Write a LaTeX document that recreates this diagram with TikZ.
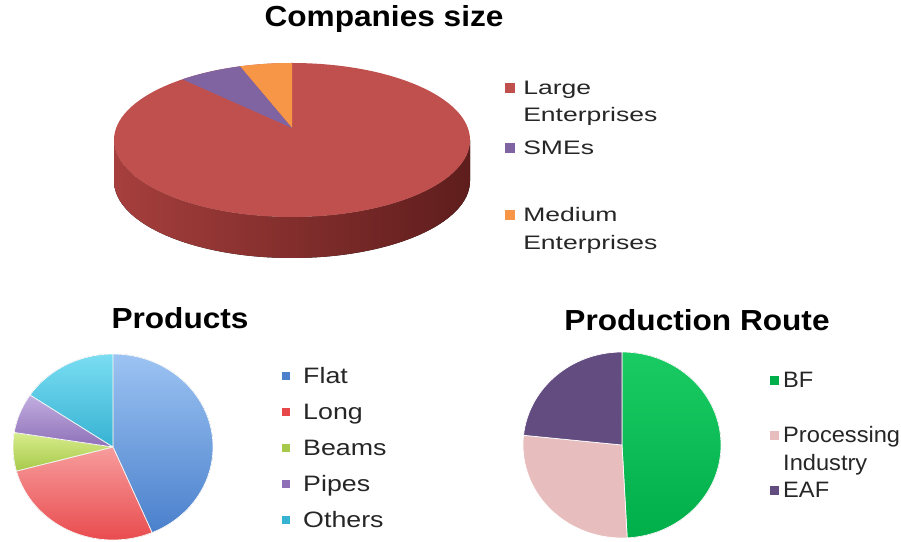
\documentclass[tikz,border=0pt]{standalone}
\usepackage{fontspec}
\setmainfont{Liberation Sans}
\usepackage{xcolor}
\usetikzlibrary{positioning}

\definecolor{large}{HTML}{C0504D}
\definecolor{smes}{HTML}{8064A2}
\definecolor{medium}{HTML}{F79646}
\definecolor{sideL}{HTML}{A63F3D}
\definecolor{sideR}{HTML}{5E1D1C}
\definecolor{flatA}{HTML}{9CC3F2}
\definecolor{flatB}{HTML}{4A80CC}
\definecolor{longA}{HTML}{F79C9C}
\definecolor{longB}{HTML}{E8474A}
\definecolor{beamsA}{HTML}{D8EC8C}
\definecolor{beamsB}{HTML}{A6C94A}
\definecolor{pipesA}{HTML}{C2AEE0}
\definecolor{pipesB}{HTML}{8E70B8}
\definecolor{othersA}{HTML}{7ADDF2}
\definecolor{othersB}{HTML}{36B2D2}
\definecolor{bfA}{HTML}{1ACB63}
\definecolor{bfB}{HTML}{00AE4A}
\definecolor{pink}{HTML}{E8BDBD}
\definecolor{eaf}{HTML}{634C80}
\definecolor{legtext}{HTML}{262626}

\begin{document}
\begin{tikzpicture}[
        x=1pt, y=1pt,
        title/.style={font=\bfseries\fontsize{29}{34}\selectfont, text=black, xscale=1.09, anchor=base, inner sep=0},
        legtop/.style={font=\fontsize{19.5}{23}\selectfont, text=legtext, xscale=1.36, anchor=base west, inner sep=0},
        legprod/.style={font=\fontsize{22.3}{26}\selectfont, text=legtext, xscale=1.2, anchor=base west, inner sep=0},
        legroute/.style={font=\fontsize{22.3}{26}\selectfont, text=legtext, xscale=1.06, anchor=base west, inner sep=0},
        legkey/.style={inner sep=0, minimum size=#1},
        legkey/.default=9pt,
        slice/.style={draw=white, line width=0.7pt, line join=round}
    ]
    \useasboundingbox (0,0) rectangle (901,541);

    % Companies size (3D pie)
    \node[title] (tSize) at (384,514) {Companies size};
    \fill[left color=sideL, right color=sideR] (114,401) -- (114,360)
        arc[start angle=180, end angle=360, x radius=178, y radius=77] -- (470,401)
        arc[start angle=0, end angle=-180, x radius=178, y radius=77] -- cycle;
    \fill[large] (292,401) ellipse [x radius=178, y radius=77];
    \fill[medium] (292,413) -- ([shift={(292,401)}]90:178 and 77)
        arc[start angle=90, end angle=107, x radius=178, y radius=77] -- cycle;
    \fill[smes] (292,413) -- ([shift={(292,401)}]107:178 and 77)
        arc[start angle=107, end angle=128, x radius=178, y radius=77] -- cycle;

    % Legend
    \node[legkey=10pt, fill=large] (kLarge) at (510,453) {};
    \node[legtop] (tLarge) at (523,446) {Large};
    \node[legtop] (tLarge2) at (523,419) {Enterprises};
    \node[legkey=10pt, fill=smes] (kSmes) at (510,393) {};
    \node[legtop] (tSmes) at (523,386) {SMEs};
    \node[legkey=10pt, fill=medium] (kMedium) at (510,326) {};
    \node[legtop] (tMedium) at (523,319) {Medium};
    \node[legtop] (tMedium2) at (523,291) {Enterprises};

    % Products
    \node[title] (tProducts) at (180,212) {Products};
    \begin{scope}[shift={(113,94)}]
        \filldraw[slice, top color=flatA, bottom color=flatB] (0,0) -- (90:100 and 93)
            arc[start angle=90, end angle=-67, x radius=100, y radius=93] -- cycle;
        \filldraw[slice, top color=longA, bottom color=longB] (0,0) -- (-67:100 and 93)
            arc[start angle=-67, end angle=-165, x radius=100, y radius=93] -- cycle;
        \filldraw[slice, top color=beamsA, bottom color=beamsB] (0,0) -- (195:100 and 93)
            arc[start angle=195, end angle=171, x radius=100, y radius=93] -- cycle;
        \filldraw[slice, top color=pipesA, bottom color=pipesB] (0,0) -- (171:100 and 93)
            arc[start angle=171, end angle=146, x radius=100, y radius=93] -- cycle;
        \filldraw[slice, top color=othersA, bottom color=othersB] (0,0) -- (146:100 and 93)
            arc[start angle=146, end angle=90, x radius=100, y radius=93] -- cycle;
    \end{scope}

    \node[legkey=8pt, fill=flatB] (kFlat) at (286,165) {};
    \node[legprod] (tFlat) at (303,158) {Flat};
    \node[legkey=8pt, fill=longB] (kLong) at (286,129) {};
    \node[legprod] (tLong) at (303,122) {Long};
    \node[legkey=8pt, fill=beamsB] (kBeams) at (286,93) {};
    \node[legprod] (tBeams) at (303,86) {Beams};
    \node[legkey=8pt, fill=pipesB] (kPipes) at (286,57) {};
    \node[legprod] (tPipes) at (303,50) {Pipes};
    \node[legkey=8pt, fill=othersB] (kOthers) at (286,21) {};
    \node[legprod] (tOthers) at (303,14) {Others};

    % Production Route
    \node[title] (tRoute) at (697,211) {Production Route};
    \begin{scope}[shift={(622,96)}]
        \filldraw[slice, top color=bfA, bottom color=bfB] (0,0) -- (90:99 and 93)
            arc[start angle=90, end angle=-87, x radius=99, y radius=93] -- cycle;
        \filldraw[slice, fill=pink] (0,0) -- (-87:99 and 93)
            arc[start angle=-87, end angle=-186, x radius=99, y radius=93] -- cycle;
        \filldraw[slice, fill=eaf] (0,0) -- (174:99 and 93)
            arc[start angle=174, end angle=90, x radius=99, y radius=93] -- cycle;
    \end{scope}

    \node[legkey, fill=bfB] (kBF) at (774,161) {};
    \node[legroute] (tBF) at (783,154) {BF};
    \node[legkey, fill=pink] (kProc) at (774,106) {};
    \node[legroute] (tProc) at (783,99) {Processing};
    \node[legroute] (tProc2) at (783,71) {Industry};
    \node[legkey, fill=eaf] (kEAF) at (774,51) {};
    \node[legroute] (tEAF) at (783,44) {EAF};
\end{tikzpicture}
\end{document}
